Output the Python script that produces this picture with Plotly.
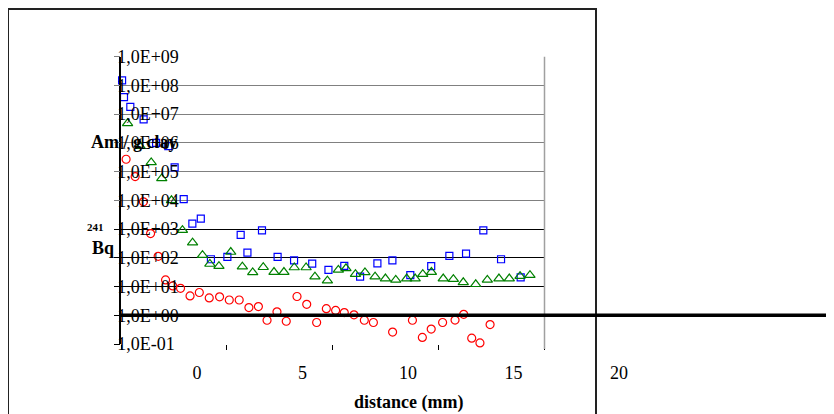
import plotly.graph_objects as go

# ---- data ----
blue_x = [-3.55, -3.46, -3.16, -2.53, -1.94, -1.36, -1.06, -0.63, -0.22, 0.18,
          0.66, 1.44, 2.07, 2.39, 3.08, 3.82, 4.60, 5.46, 6.23, 6.98,
          7.73, 8.55, 9.26, 10.11, 11.10, 11.96, 12.75, 13.57, 14.41, 15.34]
blue_y = [1.5e8, 3.9e7, 1.8e7, 6.6e6, 1.0e6, 7.7e5, 1.4e5, 1.1e4, 1.55e3, 2.3e3,
          89, 107, 630, 152, 905, 107, 82, 63, 38, 52,
          22, 64, 82, 25, 51, 116, 140, 905, 89, 21]

green_x = [-3.29, -2.70, -2.17, -1.67, -1.21, -0.69, -0.21, 0.26, 0.61, 1.04,
           1.60, 2.15, 2.64, 3.14, 3.65, 4.12, 4.61, 5.17, 5.59, 6.18,
           6.70, 7.06, 7.51, 7.96, 8.44, 8.93, 9.42, 9.94, 10.34, 10.70,
           11.11, 11.67, 12.15, 12.62, 13.21, 13.76, 14.31, 14.80, 15.31, 15.78]
green_y = [4.8e6, 7.7e5, 2.1e5, 5.8e4, 1.0e4, 920, 338, 124, 61, 51,
           159, 49, 31, 47, 32, 32, 46, 46, 22, 16,
           38, 43, 27, 31, 22, 19, 17, 19, 19, 27,
           32, 19, 18, 14, 12, 17, 19, 19, 23, 25]

red_x = [-3.36, -2.93, -2.54, -2.20, -1.84, -1.49, -1.15, -0.78, -0.33, 0.11,
         0.58, 1.07, 1.53, 2.00, 2.46, 2.91, 3.32, 3.79, 4.23, 4.74,
         5.20, 5.67, 6.13, 6.57, 6.98, 7.44, 7.93, 8.36, 9.27, 10.21,
         10.68, 11.10, 11.64, 12.23, 12.64, 13.02, 13.41, 13.89]
red_y = [2.7e5, 6.7e4, 8.9e3, 695, 113, 17, 10.5, 8.7, 4.7, 6.2,
         4.0, 4.4, 3.4, 3.4, 1.85, 2.0, 0.67, 1.32, 0.62, 4.5,
         2.4, 0.56, 1.7, 1.47, 1.24, 1.04, 0.67, 0.56, 0.26, 0.67,
         0.17, 0.33, 0.56, 0.68, 1.08, 0.16, 0.109, 0.475]

y_tickvals = [1e-1, 1e0, 1e1, 1e2, 1e3, 1e4, 1e5, 1e6, 1e7, 1e8, 1e9]
y_ticktext = ["1,0E-01", "1,0E+00", "1,0E+01", "1,0E+02", "1,0E+03", "1,0E+04",
              "1,0E+05", "1,0E+06", "1,0E+07", "1,0E+08", "1,0E+09"]
y_dark_grid = [1e-1, 1e0, 1e1, 1e2, 1e3]
y_light_grid = [1e4, 1e5, 1e6, 1e7, 1e8, 1e9]
x_tickvals = [0, 5, 10, 15, 20]
x_tickmarks = [-5, 0, 5, 10, 15]

SERIF = "Liberation Serif, Times New Roman, serif"
# the page body adds an 8px offset, so the figure fills the rest of the window
OFF = 8
W, H = 834 - OFF, 414 - OFF


def px(x):  # window pixel -> paper x
    return (x - OFF) / W


def py(y):  # window pixel -> paper y
    return (414 - y) / H


XD = [px(121), px(544.5)]
YD = [py(344), py(56.7)]

fig = go.Figure()

fig.add_trace(go.Scatter(x=blue_x, y=blue_y, mode="markers", cliponaxis=False,
                         marker=dict(symbol="square-open", size=7, color="#0000FF",
                                     line=dict(width=1.2, color="#0000FF"))))
fig.add_trace(go.Scatter(x=green_x, y=green_y, mode="markers", cliponaxis=False,
                         marker=dict(symbol="triangle-up-open", size=9, color="#008000",
                                     line=dict(width=1.2, color="#008000"))))
fig.add_trace(go.Scatter(x=red_x, y=red_y, mode="markers", cliponaxis=False,
                         marker=dict(symbol="circle-open", size=8, color="#FF0000",
                                     line=dict(width=1.2, color="#FF0000"))))

# helper traces so the extra axes get drawn
for xa, ya in [("x", "y3"), ("x", "y5"), ("x3", "y"), ("x2", "y4")]:
    fig.add_trace(go.Scatter(x=[None], y=[None], xaxis=xa, yaxis=ya, mode="markers",
                             hoverinfo="skip", showlegend=False))

fig.update_layout(
    width=W, height=H,
    margin=dict(l=0, r=0, t=0, b=0, autoexpand=False),
    paper_bgcolor="white", plot_bgcolor="rgba(0,0,0,0)",
    showlegend=False,
    font=dict(family=SERIF, color="black", size=18),
    xaxis=dict(domain=XD, range=[(121 - 197) / 21.1, (544.5 - 197) / 21.1],
               showgrid=False, zeroline=False, showticklabels=False, ticks="",
               showline=False, anchor="y", automargin=False),
    xaxis3=dict(overlaying="x", range=[-5, 15.02], tickvals=x_tickmarks,
                ticks="outside", ticklen=5, tickcolor="black", tickwidth=1,
                showticklabels=False, showgrid=False, zeroline=False, showline=False,
                anchor="y", automargin=False),
    xaxis2=dict(domain=[px(121), px(660)], range=[(121 - 197) / 21.1, (660 - 197) / 21.1],
                anchor="y4", tickvals=x_tickvals, ticks="outside", ticklen=12,
                tickcolor="rgba(0,0,0,0)", showline=False, showgrid=False, zeroline=False,
                tickfont=dict(family=SERIF, size=18, color="black"), automargin=False),
    yaxis=dict(domain=YD, type="log", range=[-1, 9], tickvals=y_tickvals,
               ticktext=y_ticktext, ticklabelposition="inside", ticklabeloverflow="allow",
               tickfont=dict(family=SERIF, size=18, color="black"),
               showgrid=False, ticks="", showline=True, linecolor="black", linewidth=1.5,
               zeroline=False, anchor="x", ticklabelstandoff=-3, automargin=False),
    yaxis3=dict(overlaying="y", type="log", range=[-1, 9], tickvals=y_dark_grid,
                showticklabels=False, showgrid=True, gridcolor="black", gridwidth=1,
                ticks="outside", ticklen=6, tickcolor="black", showline=False,
                zeroline=False, anchor="x", automargin=False),
    yaxis5=dict(overlaying="y", type="log", range=[-1, 9], tickvals=y_light_grid,
                showticklabels=False, showgrid=True, gridcolor="#808080", gridwidth=1.2,
                ticks="outside", ticklen=6, tickcolor="#808080", showline=False,
                zeroline=False, anchor="x", automargin=False),
    yaxis4=dict(domain=YD, range=[0, 1], visible=False, anchor="x2", automargin=False),
    shapes=[
        # outer chart frame
        dict(type="rect", xref="paper", yref="paper", x0=px(8), x1=px(596),
             y0=-0.05, y1=py(9), line=dict(color="#222222", width=2),
             layer="below"),
        # right border of the plot area
        dict(type="line", xref="x domain", yref="paper", x0=1, x1=1,
             y0=py(349), y1=YD[1], line=dict(color="#A0A0A0", width=1.5)),
        # thick line at 1,0E+00
        dict(type="line", xref="paper", yref="y domain", x0=px(121), x1=1,
             y0=0.1, y1=0.1, line=dict(color="black", width=3.5)),
    ],
    annotations=[
        dict(text="<b>Am / g clay</b>", xref="paper", yref="paper", x=px(134.5),
             y=py(142), xanchor="center", yanchor="middle", showarrow=False,
             font=dict(family=SERIF, size=18)),
        dict(text="<b>241</b>", xref="paper", yref="paper", x=px(95),
             y=py(227), xanchor="center", yanchor="middle", showarrow=False,
             font=dict(family=SERIF, size=11)),
        dict(text="<b>Bq</b>", xref="paper", yref="paper", x=px(103),
             y=py(248), xanchor="center", yanchor="middle", showarrow=False,
             font=dict(family=SERIF, size=18)),
        dict(text="<b>distance (mm)</b>", xref="paper", yref="paper", x=px(408.5),
             y=py(402), xanchor="center", yanchor="middle", showarrow=False,
             font=dict(family=SERIF, size=18)),
    ],
)

fig.write_html("out.html")
